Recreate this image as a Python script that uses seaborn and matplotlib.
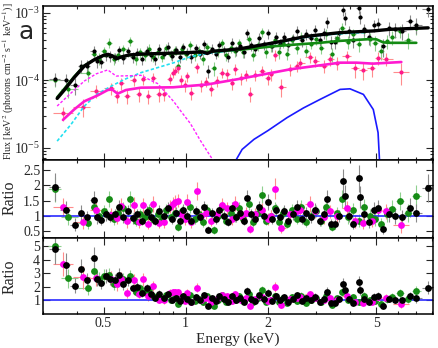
import numpy as np
import pandas as pd
import matplotlib
matplotlib.use("Agg")
import matplotlib.pyplot as plt
import matplotlib.ticker as mticker
import seaborn as sns

sns.set_theme(style="ticks")
plt.rcParams["font.family"] = ["Liberation Serif", "DejaVu Serif"]
plt.rcParams["mathtext.fontset"] = "stix"

# ---------------------------------------------------------------------------
# Data: three spectra (black, green, magenta)
# flux = top panel, r2 = middle ratio, r3 = bottom ratio, err = ratio error
# ---------------------------------------------------------------------------
blk_E = [0.331, 0.363, 0.392, 0.414, 0.435, 0.460, 0.475, 0.490, 0.510, 0.530,
         0.550, 0.570, 0.590, 0.615, 0.640, 0.665, 0.690, 0.720, 0.745, 0.770,
         0.800, 0.830, 0.860, 0.890, 0.920, 0.950, 0.980, 1.01, 1.05, 1.09,
         1.13, 1.17, 1.21, 1.25, 1.29, 1.33, 1.38, 1.43, 1.48, 1.53,
         1.58, 1.63, 1.68, 1.74, 1.80, 1.86, 1.93, 2.00, 2.07, 2.14,
         2.22, 2.30, 2.38, 2.47, 2.56, 2.66, 2.76, 2.87, 2.98, 3.10,
         3.22, 3.29, 3.40, 3.52, 3.64, 3.78, 3.84, 3.98, 4.12, 4.31,
         4.36, 4.52, 4.70, 4.90, 5.08, 5.29, 5.55, 5.85, 6.20, 6.62,
         7.00, 7.74]
blk_flux = [1.06e-4, 1.0e-4, 8.5e-5, 1.65e-4, 1.65e-4, 2.7e-4, 1.95e-4, 1.9e-4, 2.4e-4, 2.3e-4,
            2.2e-4, 2.8e-4, 2.15e-4, 2.7e-4, 2.2e-4, 2.57e-4, 2.1e-4, 2.75e-4, 2.35e-4, 2.1e-4,
            2.9e-4, 2.5e-4, 3.15e-4, 2.3e-4, 2.8e-4, 2.2e-4, 3.1e-4, 2.57e-4, 2.2e-4, 3.0e-4,
            2.5e-4, 3.4e-4, 1.4e-4, 2.95e-4, 2.45e-4, 3.3e-4, 2.8e-4, 2.25e-4, 3.6e-4, 2.8e-4,
            3.25e-4, 2.6e-4, 5.0e-4, 3.3e-4, 2.9e-4, 4.3e-4, 3.4e-4, 5.0e-4, 3.2e-4, 4.4e-4,
            3.5e-4, 4.4e-4, 3.3e-4, 4.2e-4, 5.4e-4, 3.9e-4, 4.9e-4, 4.3e-4, 5.5e-4, 4.0e-4,
            5.0e-4, 7.4e-4, 3.7e-4, 3.75e-4, 5.0e-4, 1.1e-3, 8.5e-4, 5.3e-4, 4.0e-4, 1.2e-3,
            8.8e-4, 5.7e-4, 4.4e-4, 6.5e-4, 6.9e-4, 3.2e-4, 5.9e-4, 5.7e-4, 5.4e-4, 7.5e-4,
            6.6e-4, 1.15e-3]
blk_r2 = [1.95, 1.20, 0.72, 1.10, 0.95, 1.52, 0.95, 0.88, 1.05, 0.98,
          1.05, 1.30, 0.95, 1.15, 0.92, 1.05, 0.85, 1.12, 0.95, 0.85,
          1.15, 1.00, 1.25, 0.90, 1.10, 0.85, 1.20, 1.00, 0.85, 1.15,
          0.95, 1.30, 0.55, 1.10, 0.90, 1.20, 1.00, 0.80, 1.25, 0.95,
          1.10, 0.85, 1.60, 1.05, 0.90, 1.30, 1.00, 1.45, 0.90, 1.20,
          0.95, 1.15, 0.85, 1.05, 1.30, 0.90, 1.10, 0.95, 1.20, 0.85,
          1.05, 1.55, 0.75, 0.75, 1.00, 2.13, 1.65, 1.00, 0.75, 2.22,
          1.62, 1.05, 0.80, 1.20, 1.25, 0.57, 1.05, 1.00, 0.95, 1.27,
          1.10, 1.92]
blk_r3 = [4.8, 3.6, 2.1, 3.3, 2.5, 4.1, 2.6, 2.3, 2.8, 2.6,
          2.5, 2.9, 2.2, 2.5, 1.9, 2.0, 1.55, 1.9, 1.45, 1.2,
          1.5, 1.2, 1.45, 1.0, 1.2, 0.93, 1.3, 1.08, 0.9, 1.25,
          1.02, 1.4, 0.6, 1.2, 0.98, 1.3, 1.08, 0.86, 1.35, 1.02,
          1.18, 0.92, 1.72, 1.12, 0.97, 1.4, 1.08, 1.55, 0.97, 1.3,
          1.02, 1.24, 0.92, 1.13, 1.4, 0.97, 1.18, 1.02, 1.29, 0.92,
          1.13, 1.66, 0.8, 0.8, 1.08, 2.25, 1.75, 1.08, 0.8, 2.35,
          1.75, 1.12, 0.86, 1.28, 1.32, 0.6, 1.12, 1.06, 1.0, 1.33,
          1.15, 1.95]
blk_err = [0.45, 0.3, 0.2, 0.25, 0.2, 0.3, 0.2, 0.18, 0.2, 0.18,
           0.18, 0.22, 0.18, 0.2, 0.17, 0.18, 0.16, 0.2, 0.17, 0.16,
           0.2, 0.16, 0.2, 0.15, 0.18, 0.15, 0.2, 0.16, 0.15, 0.18,
           0.15, 0.2, 0.12, 0.17, 0.15, 0.2, 0.16, 0.14, 0.2, 0.16,
           0.18, 0.15, 0.25, 0.17, 0.15, 0.2, 0.17, 0.25, 0.16, 0.2,
           0.17, 0.2, 0.16, 0.18, 0.22, 0.17, 0.2, 0.18, 0.22, 0.17,
           0.2, 0.3, 0.16, 0.16, 0.2, 0.4, 0.35, 0.2, 0.18, 0.45,
           0.35, 0.22, 0.2, 0.25, 0.27, 0.17, 0.25, 0.25, 0.25, 0.3,
           0.3, 0.45]

grn_E = [0.331, 0.370, 0.440, 0.460, 0.480, 0.500, 0.525, 0.545, 0.565, 0.590,
         0.627, 0.655, 0.680, 0.710, 0.735, 0.760, 0.790, 0.820, 0.850, 0.880,
         0.910, 0.940, 0.970, 1.00, 1.04, 1.08, 1.12, 1.16, 1.20, 1.27,
         1.31, 1.36, 1.41, 1.46, 1.51, 1.57, 1.62, 1.70, 1.77, 1.84,
         1.90, 1.97, 2.05, 2.12, 2.20, 2.28, 2.36, 2.45, 2.55, 2.65,
         2.76, 2.88, 3.00, 3.14, 3.28, 3.43, 3.58, 3.75, 3.92, 4.10,
         4.30, 4.50, 4.72, 4.95, 5.20, 5.45, 5.70, 6.10, 6.50, 7.00]
grn_flux = [1.0e-4, 7.5e-5, 1.3e-4, 2.5e-4, 2.1e-4, 2.7e-4, 3.6e-4, 2.1e-4, 2.4e-4, 2.9e-4,
            3.8e-4, 2.1e-4, 2.6e-4, 2.35e-4, 2.95e-4, 2.25e-4, 2.6e-4, 2.25e-4, 3.0e-4, 2.4e-4,
            2.8e-4, 1.65e-4, 2.95e-4, 2.45e-4, 3.35e-4, 2.35e-4, 2.75e-4, 2.1e-4, 3.1e-4, 1.5e-4,
            2.7e-4, 3.55e-4, 2.35e-4, 3.05e-4, 2.7e-4, 3.55e-4, 2.6e-4, 4.1e-4, 2.4e-4, 3.3e-4,
            5.2e-4, 2.6e-4, 3.2e-4, 4.0e-4, 2.6e-4, 3.6e-4, 2.5e-4, 4.0e-4, 3.0e-4, 4.4e-4,
            2.75e-4, 3.5e-4, 4.1e-4, 3.05e-4, 4.8e-4, 2.45e-4, 4.2e-4, 6.0e-4, 3.7e-4, 4.8e-4,
            3.45e-4, 5.3e-4, 4.1e-4, 3.6e-4, 2.7e-4, 3.8e-4, 4.4e-4, 5.3e-4, 4.0e-4, 6.0e-4]
grn_r2 = [1.87, 0.95, 0.77, 1.30, 1.00, 1.15, 1.55, 0.90, 1.10, 1.25,
          1.55, 0.85, 1.05, 0.95, 1.20, 0.90, 1.05, 0.90, 1.20, 0.95,
          1.10, 0.65, 1.15, 0.95, 1.30, 0.90, 1.05, 0.80, 1.20, 0.55,
          1.00, 1.30, 0.85, 1.10, 0.95, 1.25, 0.90, 1.40, 0.80, 1.10,
          1.69, 0.85, 1.00, 1.25, 0.80, 1.10, 0.75, 1.20, 0.90, 1.30,
          0.80, 1.00, 1.15, 0.85, 1.30, 0.65, 1.10, 1.55, 0.95, 1.20,
          0.85, 1.30, 1.00, 0.90, 0.74, 1.05, 1.23, 1.48, 1.10, 1.66]
grn_r3 = [5.0, 2.65, 1.9, 3.2, 2.6, 2.8, 2.9, 2.2, 2.4, 2.6,
          2.8, 1.65, 1.9, 1.6, 1.85, 1.3, 1.35, 1.1, 1.4, 1.07,
          1.22, 0.72, 1.25, 1.02, 1.4, 0.97, 1.13, 0.86, 1.3, 0.6,
          1.07, 1.38, 0.9, 1.17, 1.0, 1.32, 0.95, 1.48, 0.85, 1.16,
          1.78, 0.9, 1.06, 1.32, 0.85, 1.16, 0.79, 1.26, 0.95, 1.36,
          0.84, 1.05, 1.2, 0.89, 1.36, 0.68, 1.15, 1.6, 1.0, 1.25,
          0.89, 1.35, 1.04, 0.94, 0.77, 1.09, 1.27, 1.52, 1.14, 1.7]
grn_err = [0.4, 0.25, 0.2, 0.25, 0.2, 0.2, 0.25, 0.18, 0.2, 0.2,
           0.25, 0.17, 0.18, 0.17, 0.2, 0.16, 0.18, 0.16, 0.2, 0.16,
           0.18, 0.14, 0.18, 0.16, 0.2, 0.16, 0.17, 0.15, 0.2, 0.13,
           0.17, 0.2, 0.15, 0.18, 0.16, 0.2, 0.16, 0.22, 0.15, 0.18,
           0.28, 0.16, 0.18, 0.2, 0.16, 0.18, 0.15, 0.2, 0.17, 0.22,
           0.16, 0.18, 0.2, 0.17, 0.24, 0.15, 0.2, 0.28, 0.2, 0.22,
           0.2, 0.25, 0.22, 0.22, 0.2, 0.25, 0.28, 0.3, 0.3, 0.35]

mag_E = [0.354, 0.42, 0.47, 0.533, 0.56, 0.58, 0.61, 0.645, 0.675, 0.70,
         0.73, 0.76, 0.80, 0.835, 0.875, 0.895, 0.915, 0.94, 0.96, 0.99,
         1.01, 1.05, 1.10, 1.14, 1.19, 1.24, 1.30, 1.36, 1.42, 1.48,
         1.52, 1.60, 1.66, 1.72, 1.80, 1.90, 2.00, 2.05, 2.13, 2.24,
         2.42, 2.55, 2.63, 2.86, 2.98, 3.20, 3.38, 3.60, 3.90, 4.17,
         4.47, 4.80, 5.07, 5.40, 6.17]
mag_flux = [3.3e-5, 4.1e-5, 7.0e-5, 7.6e-5, 5.9e-5, 9.0e-5, 5.9e-5, 1.0e-4, 6.2e-5, 1.05e-4,
            5.9e-5, 1.1e-4, 6.2e-5, 6.3e-5, 1.05e-4, 1.3e-4, 1.4e-4, 1.5e-4, 1.0e-4, 8.5e-5,
            1.15e-4, 6.5e-5, 1.56e-4, 8.5e-5, 9.6e-5, 7.5e-5, 9.8e-5, 1.3e-4, 1.25e-4, 9.0e-5,
            1.46e-4, 1.08e-4, 1.19e-4, 6.35e-5, 1.2e-4, 1.4e-4, 1.1e-4, 1.23e-4, 2.4e-4, 8.0e-5,
            1.46e-4, 1.65e-4, 1.83e-4, 2.2e-4, 1.93e-4, 1.65e-4, 2.05e-4, 1.8e-4, 2.29e-4, 1.5e-4,
            1.42e-4, 1.5e-4, 2.17e-4, 2.1e-4, 1.33e-4]
mag_r2 = [1.29, 0.81, 1.20, 1.04, 0.93, 1.34, 0.82, 1.37, 0.80, 1.35,
          0.75, 1.39, 0.78, 0.80, 1.30, 1.39, 1.45, 1.50, 1.05, 0.90,
          1.47, 0.80, 1.81, 1.00, 1.10, 0.85, 1.05, 1.35, 1.25, 0.90,
          1.40, 1.00, 1.10, 0.58, 1.05, 1.20, 0.90, 1.00, 1.89, 0.62,
          1.05, 1.15, 1.20, 1.39, 1.15, 0.95, 1.15, 1.00, 1.25, 0.82,
          0.78, 0.85, 1.20, 1.15, 0.70]
mag_r3 = [3.7, 2.7, 2.65, 2.6, 2.2, 2.6, 1.56, 2.5, 1.5, 2.55,
          1.3, 2.05, 1.05, 1.0, 1.55, 1.6, 1.6, 1.62, 1.12, 0.96,
          1.56, 0.85, 1.95, 1.06, 1.16, 0.9, 1.1, 1.42, 1.32, 0.95,
          1.47, 1.05, 1.15, 0.61, 1.1, 1.26, 0.94, 1.05, 1.98, 0.65,
          1.1, 1.2, 1.26, 1.45, 1.2, 1.0, 1.2, 1.05, 1.3, 0.86,
          0.82, 0.89, 1.25, 1.2, 0.72]
mag_err = [0.3, 0.25, 0.25, 0.22, 0.2, 0.25, 0.2, 0.25, 0.18, 0.25,
           0.18, 0.25, 0.18, 0.18, 0.22, 0.22, 0.22, 0.22, 0.2, 0.18,
           0.25, 0.18, 0.3, 0.2, 0.2, 0.18, 0.2, 0.22, 0.22, 0.18,
           0.25, 0.2, 0.2, 0.15, 0.2, 0.22, 0.2, 0.2, 0.35, 0.18,
           0.22, 0.22, 0.22, 0.25, 0.22, 0.2, 0.22, 0.22, 0.25, 0.22,
           0.22, 0.22, 0.25, 0.25, 0.25]

# model curves (top panel)
blk_mod_E = [0.338, 0.36, 0.39, 0.425, 0.46, 0.50, 0.52, 0.54, 0.556, 0.58, 0.62, 0.685,
             0.80, 1.00, 1.15, 1.20, 1.25, 1.40, 1.59, 2.10, 2.78, 3.68, 4.87, 5.60, 7.74]
blk_mod_F = [5.4e-5, 7.3e-5, 1.1e-4, 1.63e-4, 2.0e-4, 2.35e-4, 2.43e-4, 2.3e-4, 2.08e-4,
             2.22e-4, 2.38e-4, 2.45e-4, 2.5e-4, 2.57e-4, 2.65e-4, 2.5e-4, 2.7e-4, 2.8e-4,
             2.95e-4, 3.6e-4, 4.5e-4, 5.1e-4, 5.4e-4, 5.7e-4, 6.0e-4]
grn_mod_E = [0.338, 0.36, 0.39, 0.425, 0.46, 0.50, 0.52, 0.54, 0.556, 0.58, 0.62, 0.685,
             0.80, 1.00, 1.20, 1.59, 2.10, 2.42, 3.10, 3.68, 4.80, 5.00, 5.30, 5.60, 7.00]
grn_mod_F = [5.6e-5, 7.6e-5, 1.13e-4, 1.65e-4, 2.0e-4, 2.33e-4, 2.4e-4, 2.28e-4, 2.1e-4,
             2.22e-4, 2.36e-4, 2.42e-4, 2.48e-4, 2.55e-4, 2.65e-4, 2.85e-4, 3.2e-4, 3.35e-4,
             3.6e-4, 3.85e-4, 4.1e-4, 4.05e-4, 3.65e-4, 3.6e-4, 3.6e-4]
mag_mod_E = [0.355, 0.39, 0.425, 0.476, 0.518, 0.537, 0.563, 0.604, 0.685, 0.90, 1.20,
             1.59, 2.42, 3.68, 4.23, 4.85, 6.17]
mag_mod_F = [2.6e-5, 3.7e-5, 4.9e-5, 6.0e-5, 7.2e-5, 7.35e-5, 6.35e-5, 7.2e-5, 7.8e-5,
             7.9e-5, 8.7e-5, 1.06e-4, 1.46e-4, 1.83e-4, 1.83e-4, 1.77e-4, 1.87e-4]
cyan_E = [0.338, 0.38, 0.425, 0.476, 0.533, 0.595, 0.685, 0.906, 1.04, 1.20, 1.59,
          2.10, 2.78, 3.30, 4.00, 4.50]
cyan_F = [1.26e-5, 2.23e-5, 4.16e-5, 6.35e-5, 8.2e-5, 1.03e-4, 1.3e-4, 1.83e-4, 2.24e-4,
          2.5e-4, 2.85e-4, 3.5e-4, 4.35e-4, 4.75e-4, 5.0e-4, 5.1e-4]
magdash_E = [0.338, 0.38, 0.425, 0.47, 0.518, 0.556, 0.62, 0.685, 0.745, 0.788, 0.857,
             0.906, 0.96, 1.04, 1.13, 1.23, 1.30]
magdash_F = [4.17e-5, 6.5e-5, 9.77e-5, 1.25e-4, 1.43e-4, 1.16e-4, 1.17e-4, 1.19e-4, 1.0e-4,
             9.0e-5, 6.2e-5, 4.8e-5, 3.5e-5, 2.3e-5, 1.3e-5, 7.6e-6, 5.5e-6]
blue_E = [1.535, 1.61, 1.78, 2.00, 2.35, 2.70, 3.10, 3.68, 4.00, 4.48, 4.87, 5.07, 5.15]
blue_F = [6.8e-6, 9.5e-6, 1.34e-5, 1.8e-5, 2.8e-5, 3.9e-5, 5.2e-5, 7.35e-5, 7.5e-5,
          6.2e-5, 3.7e-5, 1.68e-5, 5.0e-6]


def make_frame(E, flux, r2, r3, err):
    df = pd.DataFrame({"E": E, "flux": flux, "r2": r2, "r3": r3, "err": err})
    e = df["E"].to_numpy()
    mid = np.sqrt(e[:-1] * e[1:])
    df["lo"] = np.concatenate([[e[0] ** 2 / mid[0]], mid])
    df["hi"] = np.concatenate([mid, [e[-1] ** 2 / mid[-1]]])
    # error bars scale with the value in each panel
    df["flux_err"] = df["err"] * df["flux"] / df["r2"]
    df["r3_err"] = df["err"] * df["r3"] / df["r2"]
    return df


sets = [
    # frame, colour top, colour ratio, error colour
    (make_frame(grn_E, grn_flux, grn_r2, grn_r3, grn_err), "#138a13", "#168c16", "#8fd08f"),
    (make_frame(mag_E, mag_flux, mag_r2, mag_r3, mag_err), "#ff1a8c", "#ff00ee", "#ff8c8c"),
    (make_frame(blk_E, blk_flux, blk_r2, blk_r3, blk_err), "#000000", "#000000", "#8a8a8a"),
]

# ---------------------------------------------------------------------------
# Figure
# ---------------------------------------------------------------------------
fig = plt.figure(figsize=(4.39, 3.48), dpi=100)
L, W = 0.098, 0.888
ax1 = fig.add_axes([L, 0.540, W, 0.4425])
ax2 = fig.add_axes([L, 0.316, W, 0.224], sharex=ax1)
ax3 = fig.add_axes([L, 0.0977, W, 0.218], sharex=ax1)

ax1.set_xscale("log")
ax1.set_yscale("log")

panels = [(ax1, "flux", "flux_err", 9), (ax2, "r2", "err", 24), (ax3, "r3", "r3_err", 24)]
for ax, ycol, ecol, size in panels:
    for df, c_top, c_rat, c_err in sets:
        color = c_top if ax is ax1 else c_rat
        ax.errorbar(df["E"], df[ycol],
                    xerr=[df["E"] - df["lo"], df["hi"] - df["E"]],
                    yerr=df[ecol], fmt="none", ecolor=c_err,
                    elinewidth=0.8, capsize=0, zorder=1)
        sns.scatterplot(data=df, x="E", y=ycol, color=color, s=size,
                        linewidth=0, ax=ax, zorder=2, legend=False)

# model components
ax1.plot(cyan_E, cyan_F, color="#22e0f0", lw=1.2, ls=(0, (2.0, 1.3)), zorder=3)
ax1.plot(magdash_E, magdash_F, color="#ff22ff", lw=1.0, ls=(0, (2.0, 1.3)), zorder=3)
ax1.plot(blue_E, blue_F, color="#1a1aff", lw=1.2, zorder=3)
ax1.plot(mag_mod_E, mag_mod_F, color="#ff1ad0", lw=1.9, zorder=4)
ax1.plot(grn_mod_E, grn_mod_F, color="#138a13", lw=1.9, zorder=4)
ax1.plot(blk_mod_E, blk_mod_F, color="#000000", lw=2.4, zorder=5)

for ax in (ax2, ax3):
    ax.axhline(1, color="#2a2aff", lw=1.2, zorder=1.5)

ax1.set_xlim(0.3, 8.05)
ax1.set_ylim(6.6e-6, 1.26e-3)
ax2.set_ylim(0.28, 2.82)
ax3.set_ylim(0.0, 5.6)

ax3.xaxis.set_major_locator(mticker.FixedLocator([0.5, 1, 2, 5]))
ax3.xaxis.set_major_formatter(mticker.FuncFormatter(lambda v, p: f"{v:g}"))
ax3.xaxis.set_minor_locator(mticker.LogLocator(base=10, subs=np.arange(1, 10)))
ax3.xaxis.set_minor_formatter(mticker.NullFormatter())
ax1.yaxis.set_minor_locator(mticker.LogLocator(base=10, subs=np.arange(2, 10)))
ax2.yaxis.set_major_locator(mticker.FixedLocator([0.5, 1, 1.5, 2, 2.5]))
ax2.yaxis.set_major_formatter(mticker.FuncFormatter(lambda v, p: f"{v:g}"))
ax3.yaxis.set_major_locator(mticker.FixedLocator([1, 2, 3, 4, 5]))
ax3.yaxis.set_major_formatter(mticker.FuncFormatter(lambda v, p: f"{v:g}"))

for ax in (ax1, ax2, ax3):
    ax.set_xlabel("")
    ax.set_ylabel("")
    ax.tick_params(which="both", direction="in", top=True, right=True,
                   labelsize=10, width=0.8, pad=2)
    ax.tick_params(which="major", length=5)
    ax.tick_params(which="minor", length=2.5)
    for s in ax.spines.values():
        s.set_linewidth(1.1)
        s.set_color("black")
ax1.tick_params(labelbottom=False)
ax2.tick_params(labelbottom=False)

fig.text(0.02, 0.767,
         r"Flux [keV$^2$ (photons cm$^{-2}$ s$^{-1}$ keV$^{-1}$)]",
         rotation=90, ha="center", va="center", fontsize=7.2)
fig.text(0.022, 0.431, "Ratio", rotation=90, ha="center", va="center", fontsize=11.5)
fig.text(0.022, 0.204, "Ratio", rotation=90, ha="center", va="center", fontsize=11.5)
fig.text(0.542, 0.025, "Energy (keV)", ha="center", va="center", fontsize=11)
fig.text(0.042, 0.888, "a", ha="left", va="baseline", fontsize=18,
         family=["DejaVu Sans"])

fig.savefig("out.png", dpi=100)
